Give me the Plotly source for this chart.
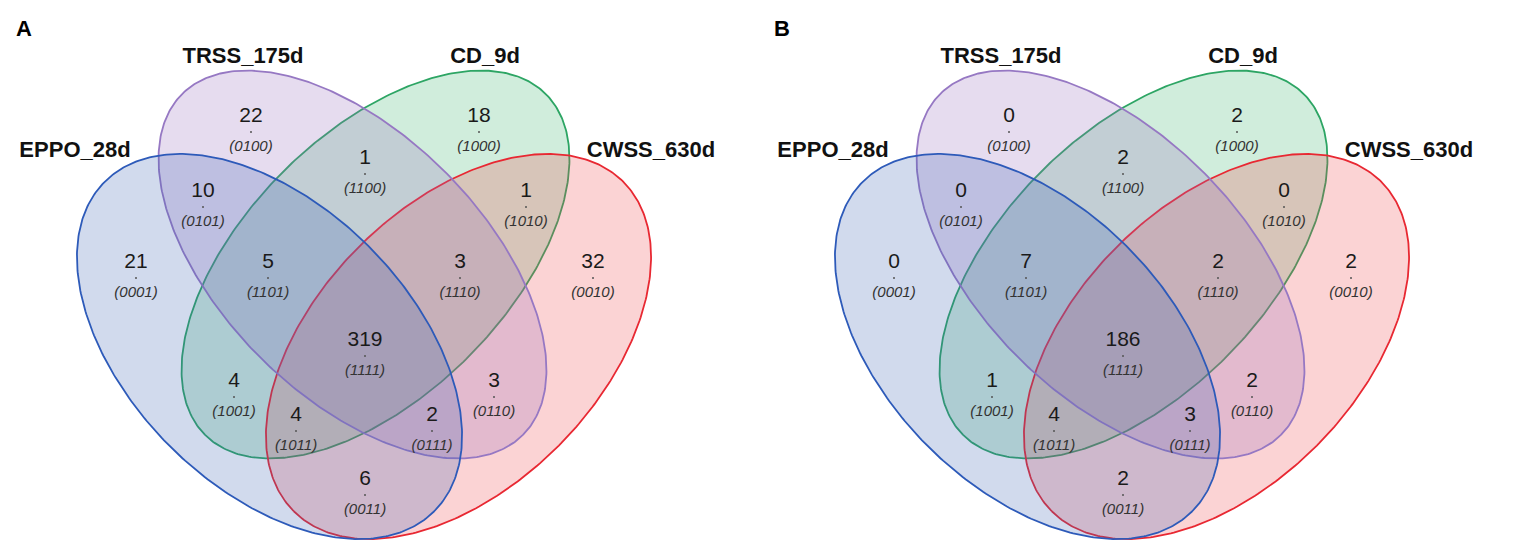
import numpy as np
import plotly.graph_objects as go

# ---------------- data ----------------
set_names = ["CD_9d", "TRSS_175d", "CWSS_630d", "EPPO_28d"]   # bit order of the codes
region_codes = ["0100", "1000", "1100", "0101", "1010", "0001", "1101", "1110",
                "0010", "1111", "1001", "0110", "1011", "0111", "0011"]
counts_A = [22, 18, 1, 10, 1, 21, 5, 3, 32, 319, 4, 3, 4, 2, 6]
counts_B = [0, 2, 2, 0, 0, 0, 7, 2, 2, 186, 1, 2, 4, 3, 2]
panel_letters = ["A", "B"]

# ---------------- layout (pixel space of a panel) ----------------
W, H = 1535, 547
panel_dx = [0, 758]
label_pos = {
    "0100": (243, 109), "1000": (471, 109), "1100": (357, 151),
    "0101": (195, 184), "1010": (518, 184),
    "0001": (128, 255), "1101": (260, 255), "1110": (452, 255), "0010": (585, 255),
    "1111": (357, 333),
    "1001": (226, 374), "0110": (486, 374),
    "1011": (288, 408), "0111": (424, 408),
    "0011": (357, 472),
}
# ellipse geometry: cx, cy, semi-major, semi-minor, angle(deg)
ellipses = {
    "CD_9d":     dict(cx=367.5, cy=256.5, a=241, b=131, ang=135,
                      line="rgb(45,165,100)", fill="rgba(60,180,110,0.24)"),
    "TRSS_175d": dict(cx=344.5, cy=256.5, a=241, b=131, ang=45,
                      line="rgb(150,120,195)", fill="rgba(150,110,190,0.24)"),
    "EPPO_28d":  dict(cx=261.5, cy=338.5, a=233, b=141, ang=45,
                      line="rgb(45,90,185)", fill="rgba(62,100,180,0.24)"),
    "CWSS_630d": dict(cx=450.5, cy=338.5, a=233, b=141, ang=135,
                      line="rgb(232,40,50)", fill="rgba(240,70,75,0.24)"),
}
set_label_pos = {"CD_9d": (477, 49), "TRSS_175d": (235, 49),
                 "CWSS_630d": (643, 143), "EPPO_28d": (67, 143)}
draw_order = ["CD_9d", "CWSS_630d", "TRSS_175d", "EPPO_28d"]

FONT = "Arial, Liberation Sans, sans-serif"

fig = go.Figure()
t = np.linspace(0, 2 * np.pi, 400)

for p, (dx, counts, letter) in enumerate(zip(panel_dx, [counts_A, counts_B], panel_letters)):
    for name in draw_order:
        e = ellipses[name]
        th = np.deg2rad(e["ang"])
        xs = e["cx"] + e["a"] * np.cos(th) * np.cos(t) - e["b"] * np.sin(th) * np.sin(t) + dx
        ys = e["cy"] + e["a"] * np.sin(th) * np.cos(t) + e["b"] * np.cos(th) * np.sin(t)
        fig.add_trace(go.Scatter(x=xs, y=ys, mode="lines", fill="toself",
                                 fillcolor=e["fill"], line=dict(color=e["line"], width=1.8),
                                 hoverinfo="skip", showlegend=False))
    lx = [label_pos[c][0] + dx for c in region_codes]
    ly = [label_pos[c][1] for c in region_codes]
    fig.add_trace(go.Scatter(x=lx, y=ly, mode="text", text=[str(v) for v in counts],
                             textfont=dict(family=FONT, size=21, color="#1a1a1a"),
                             showlegend=False, hoverinfo="skip"))
    fig.add_trace(go.Scatter(x=lx, y=[y + 15 for y in ly], mode="markers",
                             marker=dict(size=2, color="#555555"),
                             showlegend=False, hoverinfo="skip"))
    fig.add_trace(go.Scatter(x=lx, y=[y + 30 for y in ly], mode="text",
                             text=["<i>(" + c + ")</i>" for c in region_codes],
                             textfont=dict(family=FONT, size=15, color="#333333"),
                             showlegend=False, hoverinfo="skip"))
    fig.add_trace(go.Scatter(x=[set_label_pos[n][0] + dx for n in set_names],
                             y=[set_label_pos[n][1] for n in set_names], mode="text",
                             text=["<b>" + n + "</b>" for n in set_names],
                             textfont=dict(family=FONT, size=22, color="#111111"),
                             showlegend=False, hoverinfo="skip"))
    fig.add_annotation(x=16 + dx, y=20, text="<b>" + letter + "</b>", showarrow=False,
                       font=dict(family=FONT, size=22, color="#000000"))

fig.update_layout(
    width=W, height=H, autosize=False,
    margin=dict(l=0, r=0, t=0, b=0),
    paper_bgcolor="white", plot_bgcolor="white",
    xaxis=dict(range=[0, W], visible=False, fixedrange=True),
    yaxis=dict(range=[H, 0], visible=False, fixedrange=True),
)
fig.write_html("out.html")
